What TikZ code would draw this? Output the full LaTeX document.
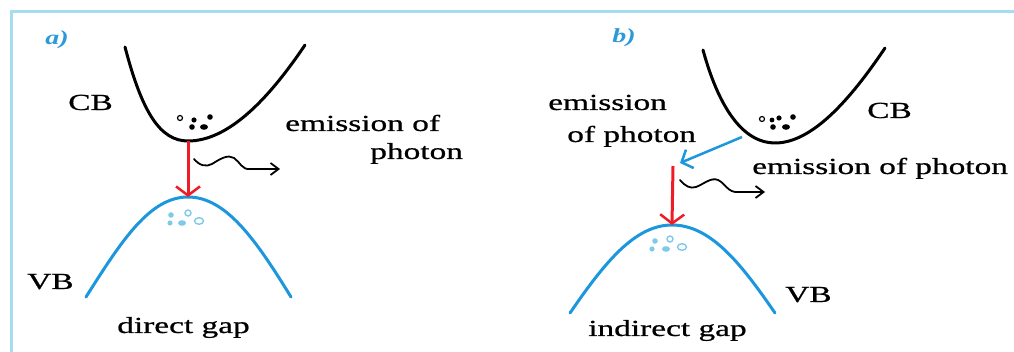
\documentclass[tikz,border=0pt]{standalone}
\usepackage{fontspec}
\setmainfont{Liberation Serif}
\newfontfamily\lblfont[FakeBold=0.6]{Liberation Serif}
\usetikzlibrary{arrows.meta}
\definecolor{framec}{HTML}{A6DCEF}
\definecolor{bandblue}{HTML}{1C96DC}
\definecolor{holec}{HTML}{7ECBE8}
\definecolor{arrred}{HTML}{EE1C25}
\definecolor{tagblue}{HTML}{2A9AD8}
\tikzset{
  lbl/.style={font=\lblfont\fontsize{23}{27}\selectfont, xscale=1.45, inner sep=0pt, anchor=base west},
  tag/.style={font=\fontsize{20}{24}\selectfont\bfseries\itshape, text=tagblue, xscale=1.4, inner sep=0pt, anchor=base west},
  cband/.style={line width=3pt, black, line cap=round},
  vband/.style={line width=3pt, bandblue, line cap=round},
  trans/.style={line width=3pt, arrred, -{Straight Barb[length=9pt,width=24pt,line width=2.5pt]}},
  phonon/.style={line width=2.5pt, bandblue, -{Straight Barb[length=9pt,width=20pt,line width=2.5pt]}},
  photon/.style={line width=1.8pt, black, line cap=round, -{Straight Barb[length=8pt,width=12pt,line width=1.8pt]}},
  elec/.style={fill=black},
  eleco/.style={draw=black, line width=1.2pt},
  hole/.style={fill=holec},
  holeo/.style={draw=holec, line width=1.4pt},
}
\begin{document}
\begin{tikzpicture}[x=1pt,y=-1pt]
\useasboundingbox (0,0) rectangle (1014,352);
% frame
\draw[framec, line width=3pt] (11,352) -- (11,12) -- (1014,12);
% ---------- panel a ----------
\node[tag] (taga) at (45,45) {a)};
\coordinate (cbaL) at (125,47);
\coordinate (cbaB) at (188,141);
\coordinate (cbaR) at (305,45);
\draw[cband] (cbaL) .. controls (142,112) and (160,141) .. (cbaB) .. controls (228,141) and (268,100) .. (cbaR);
\coordinate (vbaL) at (86,297);
\coordinate (vbaT) at (188,197);
\coordinate (vbaR) at (291,297);
\draw[vband] (vbaL) .. controls (122,240) and (150,197) .. (vbaT) .. controls (226,197) and (256,240) .. (vbaR);
% electrons a
\draw[eleco] (180,118) circle (2.5);
\fill[elec] (194,120) circle (2.6);
\fill[elec] (210,117) circle (2.8);
\fill[elec] (192,127) circle (2.8);
\fill[elec] (204,127) ellipse (4 and 2.8);
% holes a
\fill[hole] (171,215) circle (2.8);
\draw[holeo] (188,213) circle (3);
\fill[hole] (170,223) circle (2.6);
\fill[hole] (182,223) ellipse (4 and 2.8);
\draw[holeo] (199,221) ellipse (4.5 and 3.3);
% transition a
\draw[trans] (cbaB) -- (vbaT);
\coordinate (pha0) at (194,159);
\coordinate (pha1) at (280,169);
\draw[photon] (pha0) .. controls (200,166) and (206,167) .. (212,164) .. controls (220,159) and (228,154) .. (234,158) .. controls (240,162) and (242,170) .. (250,169) -- (pha1);
\node[lbl] (cba) at (68,110) {CB};
\node[lbl] (vba) at (27,289) {VB};
\node[lbl] (ema1) at (285,131) {emission of};
\node[lbl] (ema2) at (370,159) {photon};
\node[lbl] (gapa) at (117,333) {direct gap};
% ---------- panel b ----------
\node[tag] (tagb) at (612,43) {b)};
\coordinate (cbbL) at (703,50);
\coordinate (cbbB) at (775,143);
\coordinate (cbbR) at (885,48);
\draw[cband] (cbbL) .. controls (720,112) and (745,143) .. (cbbB) .. controls (812,143) and (850,100) .. (cbbR);
\coordinate (vbbL) at (570,313);
\coordinate (vbbT) at (672,225);
\coordinate (vbbR) at (775,313);
\draw[vband] (vbbL) .. controls (605,262) and (635,225) .. (vbbT) .. controls (710,225) and (740,262) .. (vbbR);
% electrons b
\draw[eleco] (762,119) circle (2.5);
\fill[elec] (772,120) circle (2.4);
\fill[elec] (779,118) circle (2.6);
\fill[elec] (793,117) circle (2.8);
\fill[elec] (773,127) circle (2.8);
\fill[elec] (786,127) ellipse (4 and 2.8);
% holes b
\fill[hole] (655,241) circle (2.8);
\draw[holeo] (670,239) circle (3);
\fill[hole] (652,249) circle (2.6);
\fill[hole] (666,249) ellipse (4 and 2.8);
\draw[holeo] (682,247) ellipse (4.5 and 3.3);
% transitions b
\coordinate (phb0) at (742,137);
\coordinate (phb1) at (680,163);
\draw[phonon] (phb0) -- (phb1);
\coordinate (rb0) at (673,166);
\draw[trans] (rb0) -- (vbbT);
\coordinate (pwb0) at (680,180);
\coordinate (pwb1) at (765,192);
\draw[photon] (pwb0) .. controls (685,186) and (690,189) .. (696,187) .. controls (704,184) and (711,177) .. (718,180) .. controls (725,183) and (728,193) .. (738,192) -- (pwb1);
\node[lbl] (cbb) at (867,118) {CB};
\node[lbl] (vbb) at (785,302) {VB};
\node[lbl] (emb1) at (548,110) {emission};
\node[lbl] (emb2) at (567,142) {of photon};
\node[lbl] (emb3) at (752,174) {emission of photon};
\node[lbl] (gapb) at (588,336) {indirect gap};
\end{tikzpicture}
\end{document}
